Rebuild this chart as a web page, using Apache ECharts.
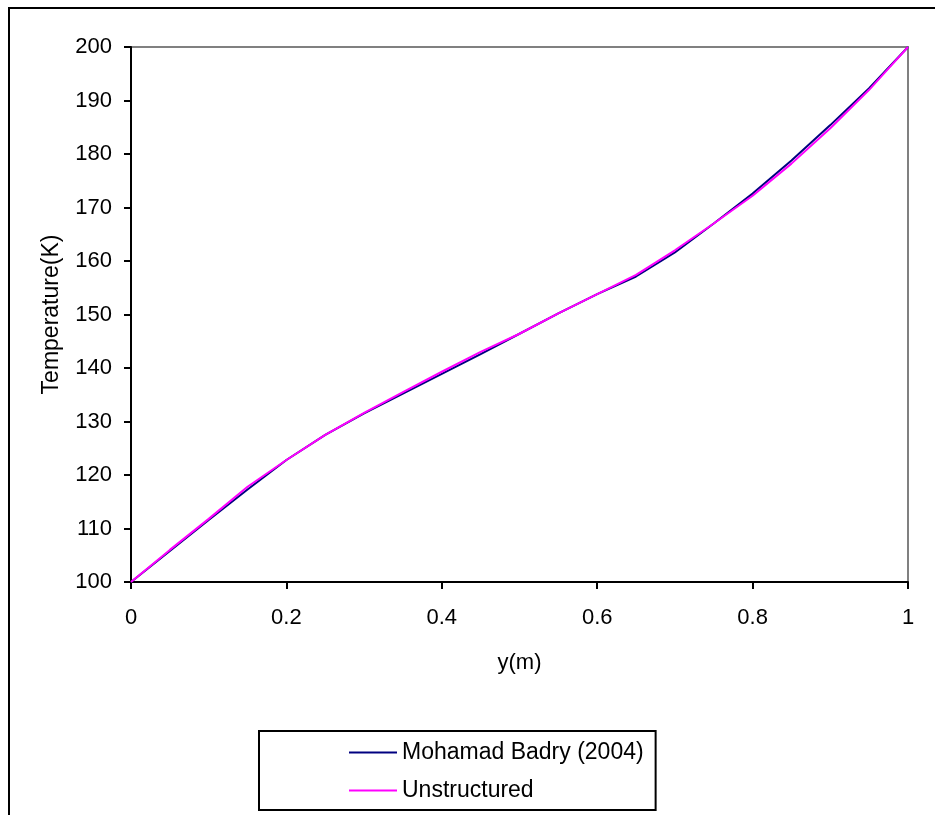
<!DOCTYPE html>
<html>
<head>
<meta charset="utf-8">
<title>Temperature profile</title>
<script src="https://cdn.jsdelivr.net/npm/echarts@6/dist/echarts.min.js"></script>
<style>
	html, body { margin: 0; padding: 0; background: #fff; }
	#chart { width: 935px; height: 815px; }
</style>
</head>
<body>
<div id="chart"></div>
<script>
	// y(m) positions and temperatures (K)
	var badryY = [0, 0.05, 0.1, 0.15, 0.2, 0.25, 0.3, 0.35, 0.4, 0.45, 0.5, 0.55, 0.6, 0.65, 0.7, 0.75, 0.8, 0.85, 0.9, 0.95, 1];
	var badryT = [100, 105.8, 111.6, 117.3, 122.8, 127.5, 131.5, 135.2, 138.9, 142.6, 146.4, 150.2, 153.8, 157.1, 161.6, 167, 172.6, 178.8, 185.4, 192.3, 200];

	var unstY = [0, 0.025, 0.05, 0.1, 0.15, 0.2, 0.25, 0.3, 0.35, 0.4, 0.45, 0.5, 0.55, 0.6, 0.65, 0.7, 0.75, 0.8, 0.85, 0.9, 0.95, 0.975, 1];
	var unstT = [100, 103, 106, 111.8, 117.8, 122.8, 127.5, 131.6, 135.5, 139.3, 143, 146.4, 150.2, 153.8, 157.4, 162, 167, 172.2, 178.2, 184.8, 192, 196, 200];

	var seriesNames = ["Mohamad Badry (2004)", "Unstructured"];
	var colors = ["#000080", "#ff00ff"];

	function pairs(xs, ys) {
		return xs.map(function (x, i) { return [x, ys[i]]; });
	}

	var font = "'Liberation Sans', Arial, sans-serif";
	var chart = echarts.init(document.getElementById("chart"));

	var option = {
		backgroundColor: "#fff",
		animation: false,
		textStyle: { fontFamily: font, color: "#000" },
		graphic: [{
			type: "rect",
			z: -10,
			shape: { x: 9, y: 8, width: 1000, height: 1000 },
			style: { fill: "none", stroke: "#000", lineWidth: 2 }
		}],
		grid: {
			left: 131,
			right: 27,
			top: 47,
			bottom: 233,
			show: true,
			borderColor: "#808080",
			borderWidth: 2,
			backgroundColor: "transparent"
		},
		legend: {
			orient: "vertical",
			left: 259,
			top: 731,
			padding: [10, 12, 8, 90],
			itemWidth: 48,
			itemHeight: 2,
			itemGap: 15,
			borderColor: "#000",
			borderWidth: 2,
			textStyle: { fontSize: 23, fontFamily: font, color: "#000" },
			data: [
				{ name: seriesNames[0], icon: "rect" },
				{ name: seriesNames[1], icon: "rect" }
			]
		},
		xAxis: {
			type: "value",
			min: 0,
			max: 1,
			interval: 0.2,
			name: "y(m)",
			nameLocation: "middle",
			nameGap: 70,
			nameTextStyle: { fontSize: 22, fontFamily: font, color: "#000" },
			axisLine: { lineStyle: { color: "#000", width: 2 } },
			axisTick: { show: true, length: 7, lineStyle: { color: "#000", width: 2 } },
			axisLabel: { fontSize: 22, margin: 25, color: "#000", fontFamily: font },
			splitLine: { show: false }
		},
		yAxis: {
			type: "value",
			min: 100,
			max: 200,
			interval: 10,
			name: "Temperature(K)",
			nameLocation: "middle",
			nameGap: 68,
			nameRotate: 90,
			nameTextStyle: { fontSize: 23, fontFamily: font, color: "#000" },
			axisLine: { show: true, lineStyle: { color: "#000", width: 2 } },
			axisTick: { show: true, length: 7, lineStyle: { color: "#000", width: 2 } },
			axisLabel: { fontSize: 22, margin: 19, color: "#000", fontFamily: font },
			splitLine: { show: false }
		},
		series: [{
			name: seriesNames[0],
			type: "line",
			symbol: "none",
			data: pairs(badryY, badryT),
			lineStyle: { color: colors[0], width: 2 },
			itemStyle: { color: colors[0] },
			z: 2
		}, {
			name: seriesNames[1],
			type: "line",
			symbol: "none",
			data: pairs(unstY, unstT),
			lineStyle: { color: colors[1], width: 2 },
			itemStyle: { color: colors[1] },
			z: 3
		}]
	};
	chart.setOption(option);
</script>
</body>
</html>
